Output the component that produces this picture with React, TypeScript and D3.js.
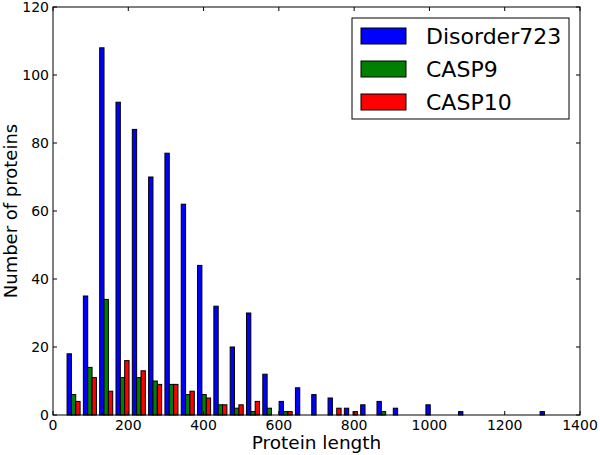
import React from "react";
import * as d3 from "d3";

// Histogram bins: 30 equal bins over protein length range
const lengthMin = 33;
const lengthMax = 1333;
const binCount = 30;

const seriesNames = ["Disorder723", "CASP9", "CASP10"];
const seriesColors = ["#0000ff", "#008000", "#ff0000"];

const disorder723 = [18, 35, 108, 92, 84, 70, 77, 62, 44, 32, 20, 30, 12, 4, 8, 6, 5, 2, 3, 4, 2, 0, 3, 0, 1, 0, 0, 0, 0, 1];
const casp9 = [6, 14, 34, 11, 11, 10, 9, 6, 6, 3, 2, 1, 2, 1, 0, 0, 0, 0, 0, 1, 0, 0, 0, 0, 0, 0, 0, 0, 0, 0];
const casp10 = [4, 11, 7, 16, 13, 9, 9, 7, 5, 3, 3, 4, 0, 1, 0, 0, 2, 1, 0, 0, 0, 0, 0, 0, 0, 0, 0, 0, 0, 0];

const xTicks = [0, 200, 400, 600, 800, 1000, 1200, 1400];
const yTicks = [0, 20, 40, 60, 80, 100, 120];

const W = 600;
const H = 455;
const left = 53;
const right = 580;
const top = 7;
const bottom = 415;
const FONT = "DejaVu Sans, sans-serif";

export default function App() {
  const x = d3.scaleLinear().domain([0, 1400]).range([left, right]);
  const y = d3.scaleLinear().domain([0, 120]).range([bottom, top]);
  const binW = (lengthMax - lengthMin) / binCount;
  const series = [disorder723, casp9, casp10];
  const binPx = x(lengthMin + binW) - x(lengthMin);
  const barW = (0.8 * binPx) / 3;

  const bars: React.ReactNode[] = [];
  series.forEach((vals, si) => {
    vals.forEach((v, bi) => {
      if (v <= 0) return;
      const x0 = x(lengthMin + bi * binW) + 0.1 * binPx + si * barW;
      bars.push(
        <rect
          key={`${si}-${bi}`}
          x={x0}
          y={y(v)}
          width={barW}
          height={y(0) - y(v)}
          fill={seriesColors[si]}
          stroke="#000"
          strokeWidth={1}
        />
      );
    });
  });

  const tickLen = 4;

  return (
    <svg width={W} height={H} style={{ position: "absolute", left: 0, top: 0, display: "block", background: "#fff" }} fontFamily={FONT}>
      <rect x={0} y={0} width={W} height={H} fill="#fff" />
      {bars}
      {/* frame */}
      <rect x={left} y={top} width={right - left} height={bottom - top} fill="none" stroke="#000" strokeWidth={1} />
      {/* x ticks */}
      {xTicks.map((t) => (
        <g key={`xt${t}`}>
          <line x1={x(t)} x2={x(t)} y1={bottom} y2={bottom - tickLen} stroke="#000" />
          <line x1={x(t)} x2={x(t)} y1={top} y2={top + tickLen} stroke="#000" />
          <text x={x(t)} y={430} fontSize={14} textAnchor="middle" fill="#000">
            {t}
          </text>
        </g>
      ))}
      {/* y ticks */}
      {yTicks.map((t) => (
        <g key={`yt${t}`}>
          <line x1={left} x2={left + tickLen} y1={y(t)} y2={y(t)} stroke="#000" />
          <line x1={right} x2={right - tickLen} y1={y(t)} y2={y(t)} stroke="#000" />
          <text x={49} y={y(t)} dy="0.36em" fontSize={14} textAnchor="end" fill="#000">
            {t}
          </text>
        </g>
      ))}
      {/* axis labels */}
      <text x={(left + right) / 2} y={449} fontSize={18.5} textAnchor="middle" fill="#000">
        Protein length
      </text>
      <text transform={`translate(17, ${(top + bottom) / 2}) rotate(-90)`} fontSize={18} textAnchor="middle" fill="#000">
        Number of proteins
      </text>
      {/* legend */}
      <g>
        <rect x={352} y={18} width={217} height={101} fill="#fff" stroke="#000" strokeWidth={1} />
        {seriesNames.map((name, i) => (
          <g key={name}>
            <rect x={361} y={28 + i * 33} width={45} height={16} fill={seriesColors[i]} stroke="#000" strokeWidth={1} />
            <text x={426} y={44 + i * 33} fontSize={22} fill="#000">
              {name}
            </text>
          </g>
        ))}
      </g>
    </svg>
  );
}
